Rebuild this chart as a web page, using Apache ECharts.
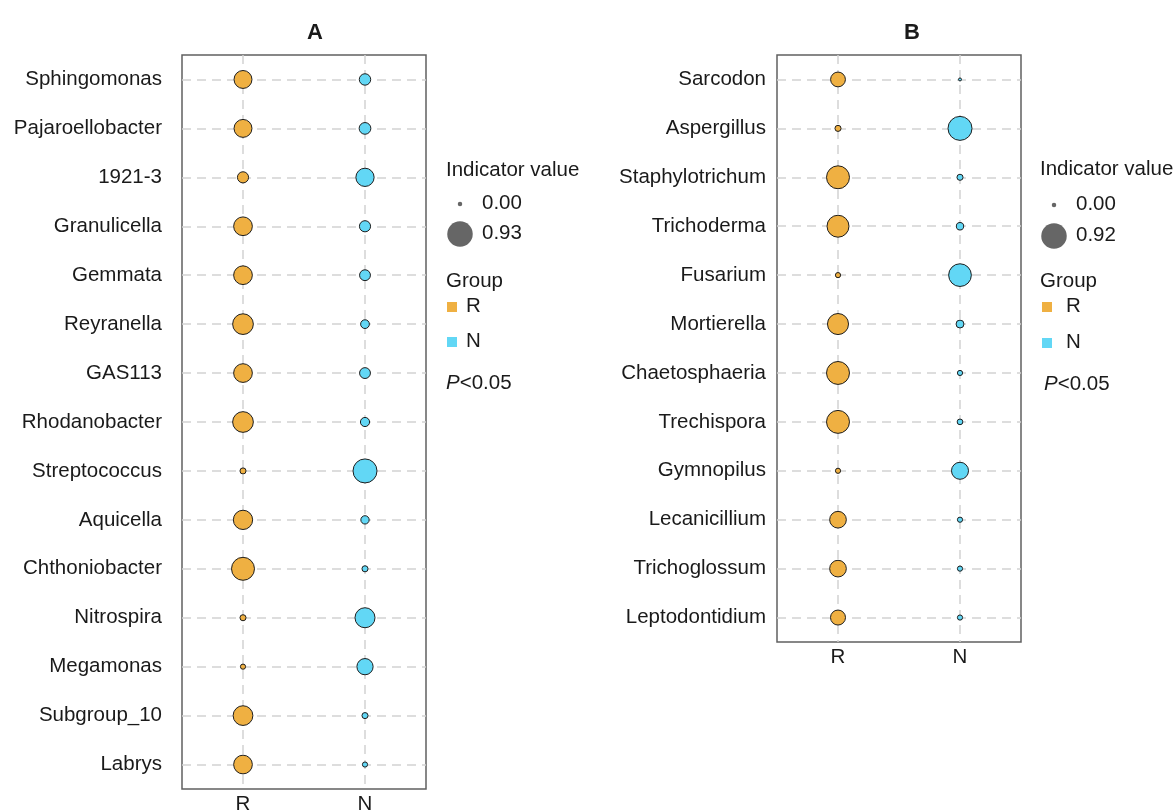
<!DOCTYPE html>
<html>
<head>
<meta charset="utf-8">
<title>Indicator genera</title>
<script src="https://cdn.jsdelivr.net/npm/echarts@6/dist/echarts.min.js"></script>
<style>
  html, body { margin: 0; padding: 0; background: #ffffff; }
  #chart { width: 1174px; height: 810px; }
</style>
</head>
<body>
<div id="chart"></div>
<script>
// Groups shown on the x axis of both panels
const groups = ['R', 'N'];

// Panel A: bacterial genera and their indicator values in R and N
const generaA = ['Sphingomonas', 'Pajaroellobacter', '1921-3', 'Granulicella', 'Gemmata',
  'Reyranella', 'GAS113', 'Rhodanobacter', 'Streptococcus', 'Aquicella',
  'Chthoniobacter', 'Nitrospira', 'Megamonas', 'Subgroup_10', 'Labrys'];
const indicatorA_R = [0.47, 0.47, 0.14, 0.52, 0.52, 0.66, 0.52, 0.66, 0.02, 0.56, 0.84, 0.02, 0.01, 0.59, 0.52];
const indicatorA_N = [0.15, 0.16, 0.49, 0.14, 0.13, 0.07, 0.13, 0.08, 0.93, 0.06, 0.02, 0.61, 0.37, 0.02, 0.01];
const sizeBreaksA = [0.00, 0.93];

// Panel B: fungal genera and their indicator values in R and N
const generaB = ['Sarcodon', 'Aspergillus', 'Staphylotrichum', 'Trichoderma', 'Fusarium',
  'Mortierella', 'Chaetosphaeria', 'Trechispora', 'Gymnopilus', 'Lecanicillium',
  'Trichoglossum', 'Leptodontidium'];
const indicatorB_R = [0.29, 0.02, 0.83, 0.75, 0.01, 0.68, 0.83, 0.83, 0.01, 0.39, 0.39, 0.30];
const indicatorB_N = [0.00, 0.92, 0.02, 0.04, 0.81, 0.05, 0.01, 0.015, 0.41, 0.01, 0.01, 0.01];
const sizeBreaksB = [0.00, 0.92];

const COLOR_R = '#EFB042';
const COLOR_N = '#62D7F5';
const FONT = '"Liberation Sans", Arial, Helvetica, sans-serif';
const TEXT = '#1a1a1a';
const FS = 20.5;

// Area-proportional bubble size (diameter grows with sqrt of value)
const D_MIN = 3, D_MAX = 24;
function bubbleSize(v, vmax) {
  return D_MIN + (D_MAX - D_MIN) * Math.sqrt(Math.max(v, 0) / vmax);
}

function toPoints(genera, values, group) {
  return genera.map((g, i) => [group, g, values[i]]);
}

const grids = [
  { left: 182, top: 55, width: 244, height: 734 },
  { left: 777, top: 55, width: 244, height: 587 }
];

const dashed = { color: '#d2d2d2', width: 1.5, type: [9, 6] };

function xAxisFor(gi) {
  return {
    type: 'category', gridIndex: gi, data: groups, boundaryGap: true,
    axisLine: { show: false }, axisTick: { show: false },
    axisLabel: { color: TEXT, fontSize: FS, fontFamily: FONT, margin: 5 },
    splitLine: { show: true, alignWithLabel: true, lineStyle: dashed }
  };
}
function yAxisFor(gi, cats, margin) {
  return {
    type: 'category', gridIndex: gi, data: cats, inverse: true, boundaryGap: true,
    axisLine: { show: false }, axisTick: { show: false },
    axisLabel: { color: TEXT, fontSize: FS, fontFamily: FONT, margin: margin },
    splitLine: { show: true, alignWithLabel: true, lineStyle: dashed }
  };
}

function bubbleSeries(name, gi, data, color, vmax) {
  return {
    name: name, type: 'scatter', xAxisIndex: gi, yAxisIndex: gi,
    data: data, encode: { x: 0, y: 1 },
    symbolSize: d => bubbleSize(d[2], vmax),
    itemStyle: { color: color, borderColor: '#1e1e1e', borderWidth: 1, opacity: 1 },
    emphasis: { disabled: true }, z: 3
  };
}

const vmaxA = sizeBreaksA[1], vmaxB = sizeBreaksB[1];

// Legend blocks: size key, group key and significance note
function legendBlock(x, breaks, vmax, pos) {
  const els = [];
  const t = (text, left, y) => ({
    type: 'text', left: left, top: y - 11,
    style: { text: text, fill: TEXT, font: FS + 'px ' + FONT }
  });
  els.push(t('Indicator value', x, pos.title));
  breaks.forEach((b, i) => {
    const r = (bubbleSize(b, vmax) + 1.5) / 2;
    els.push({ type: 'circle', shape: { cx: pos.dotX, cy: pos.size[i], r: r }, style: { fill: '#666666' } });
    els.push(t(b.toFixed(2), pos.valX, pos.size[i]));
  });
  els.push(t('Group', x, pos.group));
  [[groups[0], COLOR_R, pos.r], [groups[1], COLOR_N, pos.n]].forEach(([g, c, y]) => {
    els.push({ type: 'rect', shape: { x: pos.sqX - 5, y: y - 5, width: 10, height: 10 }, style: { fill: c } });
    els.push(t(g, pos.sqLabel, y));
  });
  els.push({
    type: 'text', left: pos.pX, top: pos.p - 11,
    style: {
      text: '{i|P}<0.05', fill: TEXT, font: FS + 'px ' + FONT,
      rich: { i: { fontStyle: 'italic', fontSize: FS, fontFamily: FONT, fill: TEXT } }
    }
  });
  return els;
}

const chart = echarts.init(document.getElementById('chart'), null, { renderer: 'canvas' });
chart.setOption({
  backgroundColor: '#ffffff',
  animation: false,
  title: [
    { text: 'A', left: 302, top: 17, textStyle: { fontSize: 22, fontWeight: 'bold', color: TEXT, fontFamily: FONT } },
    { text: 'B', left: 899, top: 17, textStyle: { fontSize: 22, fontWeight: 'bold', color: TEXT, fontFamily: FONT } }
  ],
  grid: grids.map(g => Object.assign({
    show: true, borderColor: '#606060', borderWidth: 1.5,
    containLabel: false, outerBoundsMode: 'none'
  }, g)),
  xAxis: [xAxisFor(0), xAxisFor(1)],
  yAxis: [yAxisFor(0, generaA, 20), yAxisFor(1, generaB, 11)],
  series: [
    bubbleSeries('R', 0, toPoints(generaA, indicatorA_R, 'R'), COLOR_R, vmaxA),
    bubbleSeries('N', 0, toPoints(generaA, indicatorA_N, 'N'), COLOR_N, vmaxA),
    bubbleSeries('R', 1, toPoints(generaB, indicatorB_R, 'R'), COLOR_R, vmaxB),
    bubbleSeries('N', 1, toPoints(generaB, indicatorB_N, 'N'), COLOR_N, vmaxB)
  ],
  graphic: [].concat(
    legendBlock(446, sizeBreaksA, vmaxA, {
      title: 171, size: [204, 234], dotX: 460, valX: 482,
      group: 282, r: 307, n: 342, sqX: 452, sqLabel: 466, p: 384, pX: 446
    }),
    legendBlock(1040, sizeBreaksB, vmaxB, {
      title: 170, size: [205, 236], dotX: 1054, valX: 1076,
      group: 282, r: 307, n: 343, sqX: 1047, sqLabel: 1066, p: 385, pX: 1044
    })
  )
});
</script>
</body>
</html>
